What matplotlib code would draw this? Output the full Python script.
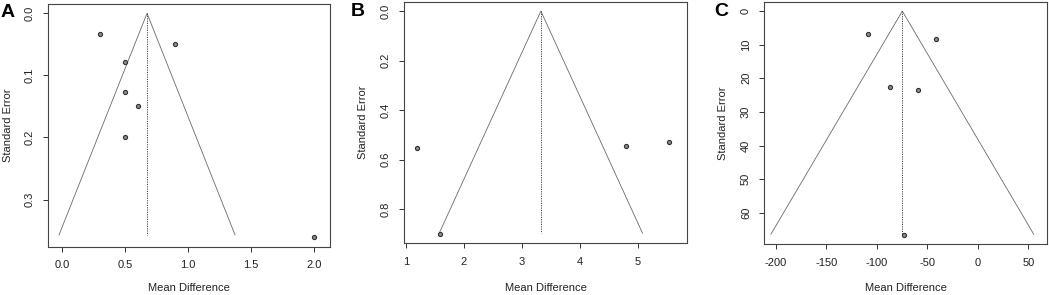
import matplotlib
matplotlib.use("Agg")
import matplotlib.pyplot as plt

plt.rcParams['font.family'] = ['Liberation Sans', 'DejaVu Sans']

# ---- data ----
a_md = [0.3, 0.9, 0.5, 0.5, 0.6, 0.5, 2.0]
a_se = [0.034, 0.049, 0.079, 0.127, 0.149, 0.199, 0.360]
a_center = 0.675
a_se_max = 0.357
a_xticks = [0.0, 0.5, 1.0, 1.5, 2.0]
a_xticklabels = ["0.0", "0.5", "1.0", "1.5", "2.0"]
a_yticks = [0.0, 0.1, 0.2, 0.3]
a_yticklabels = ["0.0", "0.1", "0.2", "0.3"]

b_md = [1.19, 1.58, 4.80, 5.54]
b_se = [0.551, 0.901, 0.543, 0.530]
b_center = 3.33
b_se_max = 0.896
b_xticks = [1, 2, 3, 4, 5]
b_xticklabels = ["1", "2", "3", "4", "5"]
b_yticks = [0.0, 0.2, 0.4, 0.6, 0.8]
b_yticklabels = ["0.0", "0.2", "0.4", "0.6", "0.8"]

c_md = [-109.0, -42.0, -87.0, -59.0, -73.0]
c_se = [6.9, 8.4, 22.6, 23.6, 66.6]
c_center = -74.9
c_se_max = 66.4
c_xticks = [-200, -150, -100, -50, 0, 50]
c_xticklabels = ["-200", "-150", "-100", "-50", "0", "50"]
c_yticks = [0, 10, 20, 30, 40, 50, 60]
c_yticklabels = ["0", "10", "20", "30", "40", "50", "60"]

W, H = 1049, 295
fig = plt.figure(figsize=(W / 100, H / 100), dpi=100)

def px_axes(left, right, top, bottom):
    return fig.add_axes([left / W, 1 - bottom / H, (right - left) / W, (bottom - top) / H])

panels = [
    dict(letter="A", md=a_md, se=a_se, c=a_center, smax=a_se_max,
         xt=a_xticks, xtl=a_xticklabels, yt=a_yticks, ytl=a_yticklabels,
         box=(48.3, 330.0, 4.0, 246.7), xlim=(-0.11, 2.13), ylim=(0.376, -0.015),
         ylab_x=8, lett_x=1, lett_y=12.5),
    dict(letter="B", md=b_md, se=b_se, c=b_center, smax=b_se_max,
         xt=b_xticks, xtl=b_xticklabels, yt=b_yticks, ytl=b_yticklabels,
         box=(404.3, 686.7, 1.7, 243.3), xlim=(0.97, 5.85), ylim=(0.937, -0.038),
         ylab_x=363.3, lett_x=351, lett_y=12),
    dict(letter="C", md=c_md, se=c_se, c=c_center, smax=c_se_max,
         xt=c_xticks, xtl=c_xticklabels, yt=c_yticks, ytl=c_yticklabels,
         box=(764.3, 1046.7, 1.7, 244.3), xlim=(-211.6, 68.1), ylim=(69.4, -2.8),
         ylab_x=723.3, lett_x=714, lett_y=12),
]

for p in panels:
    l, r, t, b = p["box"]
    ax = px_axes(l, r, t, b)
    c, smax = p["c"], p["smax"]
    ax.plot([c - 1.96 * smax, c, c + 1.96 * smax], [smax, 0, smax],
            color="#6a6a6a", lw=0.6, solid_joinstyle="miter")
    ax.plot([c, c], [0, smax], color="#444444", lw=0.7, ls=(0, (1.2, 1.2)))
    ax.scatter(p["md"], p["se"], s=9, facecolor="#8a8a8a", edgecolor="#333333",
               linewidths=0.8, zorder=3)
    ax.set_xlim(*p["xlim"])
    ax.set_ylim(*p["ylim"])
    ax.set_xticks(p["xt"])
    ax.set_xticklabels(p["xtl"])
    ax.set_yticks(p["yt"])
    ax.set_yticklabels(p["ytl"], rotation=90, va="center")
    ax.tick_params(direction="out", length=3.6, width=0.7, labelsize=8,
                   color="#333333", labelcolor="#222222", pad=6)
    for s in ax.spines.values():
        s.set_linewidth(0.8)
        s.set_color("#444444")
    ax.set_xlabel("Mean Difference", fontsize=8, color="#222222")
    ax.set_ylabel("Standard Error", fontsize=8, color="#222222")
    wpx = r - l
    hpx = b - t
    ax.xaxis.set_label_coords(0.5, (b - 288) / hpx)
    ax.yaxis.set_label_coords((p["ylab_x"] - l) / wpx, 0.5)
    ax.xaxis.label.set_va("center")
    ax.yaxis.label.set_va("center")
    fig.text(p["lett_x"] / W, 1 - p["lett_y"] / H, p["letter"], fontsize=14,
             fontweight="bold", ha="left", va="center", color="black")

fig.savefig("out.png", dpi=100, facecolor="white")
